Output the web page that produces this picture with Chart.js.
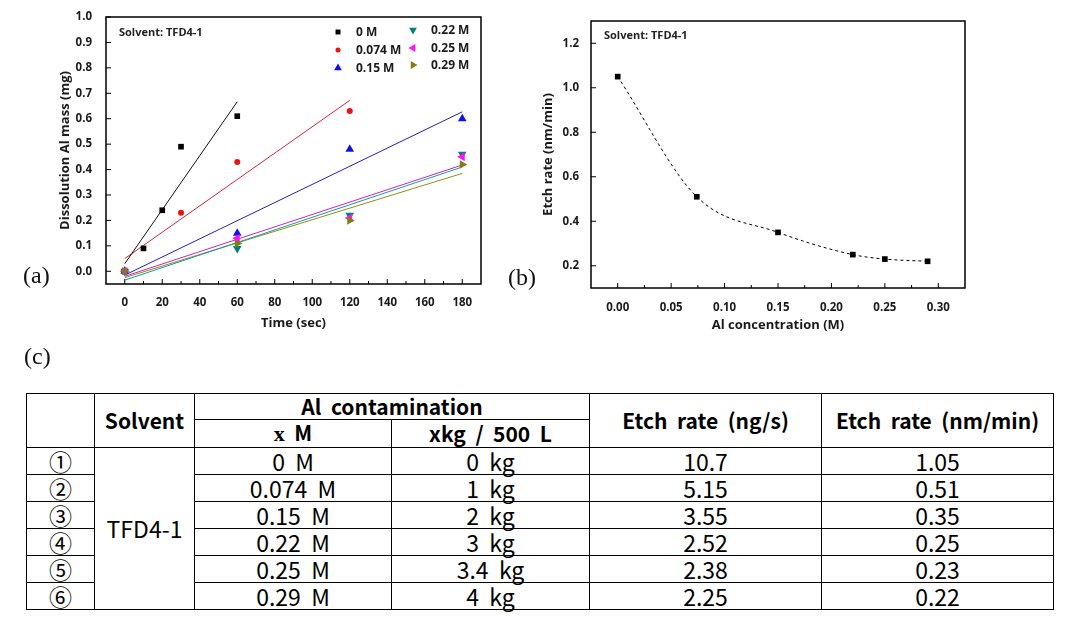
<!DOCTYPE html>
<html>
<head>
<meta charset="utf-8">
<script src="https://cdn.jsdelivr.net/npm/chart.js@4.4.0/dist/chart.umd.min.js"></script>
<style>
body { margin: 0; background: #fff; width: 1067px; height: 625px; overflow: hidden; position: relative; }
canvas { position: absolute; top: 0; }
#chartA { left: 0; }
#chartB { left: 500px; }
.panel { position: absolute; font-family: "Liberation Serif", "DejaVu Serif", serif; font-size: 24px; line-height: 1; color: #111; }
#dataTable { position: absolute; left: 26px; top: 393px; width: 1027px; border-collapse: collapse; table-layout: fixed;
  font-family: "Noto Sans CJK KR", "Noto Sans", sans-serif; color: #000; }
#dataTable td { border: 1px solid #000; padding: 0; text-align: center; vertical-align: middle; font-size: 23px; line-height: 1; white-space: pre; overflow: visible; height: 26px; }
#dataTable td.hd { font-weight: bold; font-size: 21px; }
#dataTable tr.h1 td { height: 25px; }
#dataTable tr.h2 td { height: 27px; }
.serif { font-family: "Liberation Serif", serif; font-weight: bold; font-size: 22px; }
</style>
</head>
<body>
<canvas id="chartA" width="500" height="340"></canvas>
<canvas id="chartB" width="500" height="340"></canvas>
<div class="panel" style="left:23px; top:263px;">(a)</div>
<div class="panel" style="left:508px; top:265px;">(b)</div>
<div class="panel" style="left:24px; top:344px;">(c)</div>

<table id="dataTable">
  <colgroup><col style="width:68px"><col style="width:100px"><col style="width:197px"><col style="width:198px"><col style="width:232px"><col style="width:232px"></colgroup>
  <thead>
    <tr class="h1"><td rowspan="2"></td><td rowspan="2" class="hd">Solvent</td><td colspan="2" class="hd">Al  contamination</td><td rowspan="2" class="hd">Etch  rate  (ng/s)</td><td rowspan="2" class="hd">Etch  rate  (nm/min)</td></tr>
    <tr class="h2"><td class="hd"><span class="serif">x</span>  M</td><td class="hd">xkg  /  500  L</td></tr>
  </thead>
  <tbody></tbody>
</table>

<script>
// (a) dissolved Al mass vs time, one pair of arrays per solution
const seriesLabels = ['0 M', '0.074 M', '0.15 M', '0.22 M', '0.25 M', '0.29 M'];
const t0 = [0, 10, 20, 30, 60];
const m0 = [0, 0.09, 0.24, 0.49, 0.61];
const t074 = [0, 30, 60, 120];
const m074 = [0, 0.23, 0.43, 0.63];
const tLong = [0, 60, 120, 180];
const m15 = [0, 0.15, 0.48, 0.60];
const m22 = [0, 0.09, 0.22, 0.46];
const m25 = [0, 0.13, 0.21, 0.45];
const m29 = [0, 0.11, 0.20, 0.42];
// linear fit end points
const fitT = [[0, 60], [0, 120], [0, 180], [0, 180], [0, 180], [0, 180]];
const fitM = [[0.03, 0.667], [0.05, 0.672], [-0.015, 0.627], [-0.035, 0.41], [-0.02, 0.418], [-0.025, 0.385]];
const timeTicks = [0, 20, 40, 60, 80, 100, 120, 140, 160, 180];
const massTicks = [0, 0.1, 0.2, 0.3, 0.4, 0.5, 0.6, 0.7, 0.8, 0.9, 1.0];

// (b) + table (c)
const rowMarks = ['①', '②', '③', '④', '⑤', '⑥'];
const solvent = 'TFD4-1';
const concM = [0, 0.074, 0.15, 0.22, 0.25, 0.29];
const concLabels = ['0  M', '0.074  M', '0.15  M', '0.22  M', '0.25  M', '0.29  M'];
const kgLabels = ['0  kg', '1  kg', '2  kg', '3  kg', '3.4  kg', '4  kg'];
const etchNgs = ['10.7', '5.15', '3.55', '2.52', '2.38', '2.25'];
const etchNmMin = [1.05, 0.51, 0.35, 0.25, 0.23, 0.22];
const concTicks = [0, 0.05, 0.10, 0.15, 0.20, 0.25, 0.30];
const rateTicks = [0.2, 0.4, 0.6, 0.8, 1.0, 1.2];

Chart.defaults.font.family = '"Open Sans"';
Chart.defaults.font.weight = 'bold';
Chart.defaults.color = '#1a1a1a';
Chart.defaults.animation = false;

const colors = ['#000000', '#ee1111', '#1010ee', '#008080', '#ff10ff', '#808010'];
const lineColors = ['#111111', '#dd2233', '#2020c0', '#10a0a0', '#cc20cc', '#909010'];
const styles = [
  {pointStyle: 'rect', radius: 4, rotation: 0},
  {pointStyle: 'circle', radius: 3, rotation: 0},
  {pointStyle: 'triangle', radius: 5, rotation: 0},
  {pointStyle: 'triangle', radius: 5, rotation: 180},
  {pointStyle: 'triangle', radius: 5, rotation: 270},
  {pointStyle: 'triangle', radius: 5, rotation: 90}
];
const pointX = [t0, t074, tLong, tLong, tLong, tLong];
const pointY = [m0, m074, m15, m22, m25, m29];

const frameTicks = {
  id: 'frameTicks',
  afterDatasetsDraw(chart) {
    const {ctx, chartArea: a} = chart;
    const xs = chart.scales.x, ys = chart.scales.y;
    ctx.save();
    ctx.strokeStyle = '#000';
    ctx.lineWidth = 1;
    ctx.beginPath();
    const xt = xs.ticks.map(t => t.value);
    xt.forEach((v, i) => {
      const p = xs.getPixelForValue(v);
      ctx.moveTo(p, a.bottom); ctx.lineTo(p, a.bottom - 5);
      if (i > 0) {
        const m = xs.getPixelForValue((v + xt[i - 1]) / 2);
        ctx.moveTo(m, a.bottom); ctx.lineTo(m, a.bottom - 3);
      }
    });
    ys.ticks.forEach(t => {
      const p = ys.getPixelForValue(t.value);
      ctx.moveTo(a.left, p); ctx.lineTo(a.left + 5, p);
    });
    ctx.stroke();
    ctx.lineWidth = 1.5;
    ctx.strokeRect(a.left, a.top, a.right - a.left, a.bottom - a.top);
    const note = chart.options.plugins.note;
    if (note) {
      ctx.fillStyle = '#222';
      ctx.font = 'bold 11px "Open Sans"';
      ctx.textBaseline = 'middle';
      ctx.fillText(note.text, note.x, note.y);
    }
    ctx.restore();
  }
};

// legend of (a), two columns inside the plot
const legendPos = [[338, 32], [338, 50], [338, 68], [413, 30], [413, 48], [413, 65]];
const inLegend = {
  id: 'inLegend',
  afterDraw(chart) {
    const ctx = chart.ctx;
    ctx.save();
    ctx.font = 'bold 12px "Open Sans"';
    ctx.textBaseline = 'middle';
    seriesLabels.forEach((lab, i) => {
      const [x, y] = legendPos[i];
      ctx.fillStyle = colors[i];
      ctx.strokeStyle = colors[i];
      Chart.helpers.drawPoint(ctx, {pointStyle: styles[i].pointStyle, radius: styles[i].radius - 0.5, rotation: styles[i].rotation, borderWidth: 0}, x, y);
      ctx.fillStyle = '#1a1a1a';
      ctx.fillText(lab, x + 18, y + 1);
    });
    ctx.restore();
  }
};

const scatterSets = seriesLabels.map((lab, i) => ({
  label: lab,
  data: pointX[i].map((t, k) => ({x: t, y: pointY[i][k]})),
  backgroundColor: colors[i],
  borderColor: colors[i],
  borderWidth: 0,
  pointStyle: styles[i].pointStyle,
  pointRadius: styles[i].radius,
  rotation: styles[i].rotation,
  order: 6 - i
}));
const fitSets = seriesLabels.map((lab, i) => ({
  label: lab + ' fit',
  data: fitT[i].map((t, k) => ({x: t, y: fitM[i][k]})),
  showLine: true,
  borderColor: lineColors[i],
  borderWidth: 1,
  pointRadius: 0,
  order: 10
}));

new Chart(document.getElementById('chartA'), {
  type: 'scatter',
  data: {datasets: scatterSets.concat(fitSets)},
  options: {
    responsive: false,
    layout: {padding: {top: 17, right: 19, left: 0, bottom: 0}},
    plugins: {
      legend: {display: false},
      tooltip: {enabled: false},
      note: {text: 'Solvent: TFD4-1', x: 119, y: 33}
    },
    scales: {
      x: {
        min: -10, max: 190,
        grid: {display: false},
        border: {display: false},
        afterBuildTicks: s => { s.ticks = timeTicks.map(v => ({value: v})); },
        afterFit: s => { s.height = 56; },
        ticks: {font: {size: 11.5}, padding: 4, maxRotation: 0, callback: v => String(v)},
        title: {display: true, text: 'Time (sec)', font: {size: 13}, padding: {top: 0, bottom: 9}}
      },
      y: {
        min: -0.05, max: 1.0,
        grid: {display: false},
        border: {display: false},
        afterBuildTicks: s => { s.ticks = massTicks.map(v => ({value: v})); },
        afterFit: s => { s.width = 106; },
        ticks: {font: {size: 11.5}, padding: 6, callback: v => v.toFixed(1)},
        title: {display: true, text: 'Dissolution Al mass (mg)', font: {size: 13}, padding: {top: 57, bottom: 0}}
      }
    }
  },
  plugins: [frameTicks, inLegend]
});

new Chart(document.getElementById('chartB'), {
  type: 'scatter',
  data: {
    datasets: [{
      label: 'Etch rate',
      data: concM.map((c, i) => ({x: c, y: etchNmMin[i]})),
      showLine: true,
      cubicInterpolationMode: 'monotone',
      borderColor: '#000',
      borderWidth: 1,
      borderDash: [3, 3],
      backgroundColor: '#000',
      pointStyle: 'rect',
      pointRadius: 4,
      pointBorderWidth: 0
    }]
  },
  options: {
    responsive: false,
    layout: {padding: {top: 21, right: 35, left: 0, bottom: 0}},
    plugins: {
      legend: {display: false},
      tooltip: {enabled: false},
      note: {text: 'Solvent: TFD4-1', x: 104, y: 36}
    },
    scales: {
      x: {
        min: -0.025, max: 0.325,
        grid: {display: false},
        border: {display: false},
        afterBuildTicks: s => { s.ticks = concTicks.map(v => ({value: v})); },
        afterFit: s => { s.height = 52; },
        ticks: {font: {size: 11.5}, padding: 5, maxRotation: 0, callback: v => v.toFixed(2)},
        title: {display: true, text: 'Al concentration (M)', font: {size: 13}, padding: {top: 0, bottom: 7}}
      },
      y: {
        min: 0.1, max: 1.3,
        grid: {display: false},
        border: {display: false},
        afterBuildTicks: s => { s.ticks = rateTicks.map(v => ({value: v})); },
        afterFit: s => { s.width = 91; },
        ticks: {font: {size: 11.5}, padding: 4, callback: v => v.toFixed(1)},
        title: {display: true, text: 'Etch rate (nm/min)', font: {size: 13}, padding: {top: 40, bottom: 0}}
      }
    }
  },
  plugins: [frameTicks]
});

// table (c)
const tbody = document.querySelector('#dataTable tbody');
rowMarks.forEach((mk, i) => {
  const tr = document.createElement('tr');
  const cells = [mk];
  if (i === 0) cells.push(solvent);
  cells.push(concLabels[i], kgLabels[i], etchNgs[i], etchNmMin[i].toFixed(2));
  cells.forEach((txt, k) => {
    const td = document.createElement('td');
    td.textContent = txt;
    if (i === 0 && k === 1) td.rowSpan = rowMarks.length;
    tr.appendChild(td);
  });
  tbody.appendChild(tr);
});
</script>
</body>
</html>
